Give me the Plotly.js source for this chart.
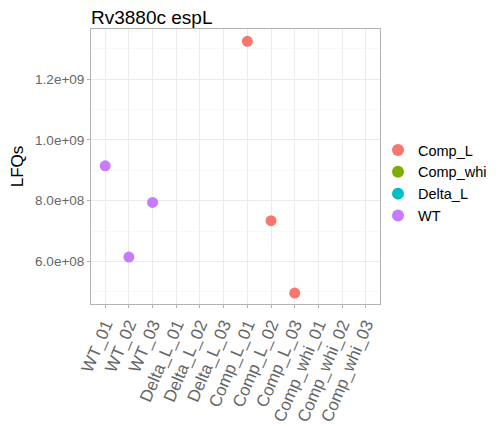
<!DOCTYPE html>
<html><head><meta charset="utf-8">
<script src="https://cdn.plot.ly/plotly-3.0.1.min.js"></script>
<style>html,body{margin:0;padding:0;background:#fff;}#chart{width:498px;height:427px;}</style>
</head><body><div id="chart"></div>
<script>
const categories = ["WT_01","WT_02","WT_03","Delta_L_01","Delta_L_02","Delta_L_03","Comp_L_01","Comp_L_02","Comp_L_03","Comp_whi_01","Comp_whi_02","Comp_whi_03"];
const compL_x = ["Comp_L_01","Comp_L_02","Comp_L_03"];
const compL_y = [1.324e9, 7.34e8, 4.96e8];
const compWhi_x = ["Comp_whi_01","Comp_whi_02","Comp_whi_03"];
const compWhi_y = [null, null, null];
const deltaL_x = ["Delta_L_01","Delta_L_02","Delta_L_03"];
const deltaL_y = [null, null, null];
const wt_x = ["WT_01","WT_02","WT_03"];
const wt_y = [9.145e8, 6.145e8, 7.94e8];
const yTickVals = [6e8, 8e8, 1e9, 1.2e9];
const yTickText = ["6.0e+08","8.0e+08","1.0e+09","1.2e+09"];

const FONT = "Liberation Sans, Arial, sans-serif";
function tr(name, x, y, color){
  return {type:"scatter", mode:"markers", name:name, x:x, y:y,
    marker:{color:color, size:11}, cliponaxis:false};
}
const data = [
  tr("Comp_L", compL_x, compL_y, "#F8766D"),
  tr("Comp_whi", compWhi_x, compWhi_y, "#7CAE00"),
  tr("Delta_L", deltaL_x, deltaL_y, "#00BFC4"),
  tr("WT", wt_x, wt_y, "#C77CFF")
];
const layout = {
  width:498, height:427,
  margin:{l:91, r:118, t:29, b:123, pad:0, autoexpand:false},
  paper_bgcolor:"#fff", plot_bgcolor:"#fff",
  font:{family:FONT, color:"#000"},
  title:{text:"Rv3880c espL", font:{size:19, color:"#000", family:FONT},
    x:91/498, xanchor:"left", xref:"container", y:1-17/427, yanchor:"middle", yref:"container"},
  showlegend:true,
  legend:{xref:"container", yref:"container", x:378/498, xanchor:"left", y:1-183/427, yanchor:"middle",
    font:{size:14.5, color:"#000"}, itemsizing:"constant", tracegroupgap:0, bgcolor:"rgba(0,0,0,0)"},
  xaxis:{type:"category", categoryorder:"array", categoryarray:categories,
    range:[-0.6, 11.6], tickangle:-67, tickfont:{size:17, color:"#666"},
    showgrid:true, gridcolor:"#ebebeb", gridwidth:1,
    ticks:"outside", ticklen:3, tickcolor:"#b3b3b3",
    showline:true, mirror:true, linecolor:"#b3b3b3", linewidth:1, zeroline:false},
  yaxis:{title:{text:"LFQs", font:{size:17, color:"#000"}, standoff:7},
    range:[4.6e8, 1.3645e9], tickvals:yTickVals, ticktext:yTickText,
    tickfont:{size:13.5, color:"#666"},
    showgrid:true, gridcolor:"#ebebeb", gridwidth:1,
    minor:{tickvals:[5e8,7e8,9e8,1.1e9,1.3e9], showgrid:true, gridcolor:"#f3f3f3", gridwidth:0.6, ticks:""},
    ticks:"outside", ticklen:3, tickcolor:"#b3b3b3",
    showline:true, mirror:true, linecolor:"#b3b3b3", linewidth:1, zeroline:false}
};
Plotly.newPlot("chart", data, layout, {displayModeBar:false, staticPlot:true});
</script></body></html>
